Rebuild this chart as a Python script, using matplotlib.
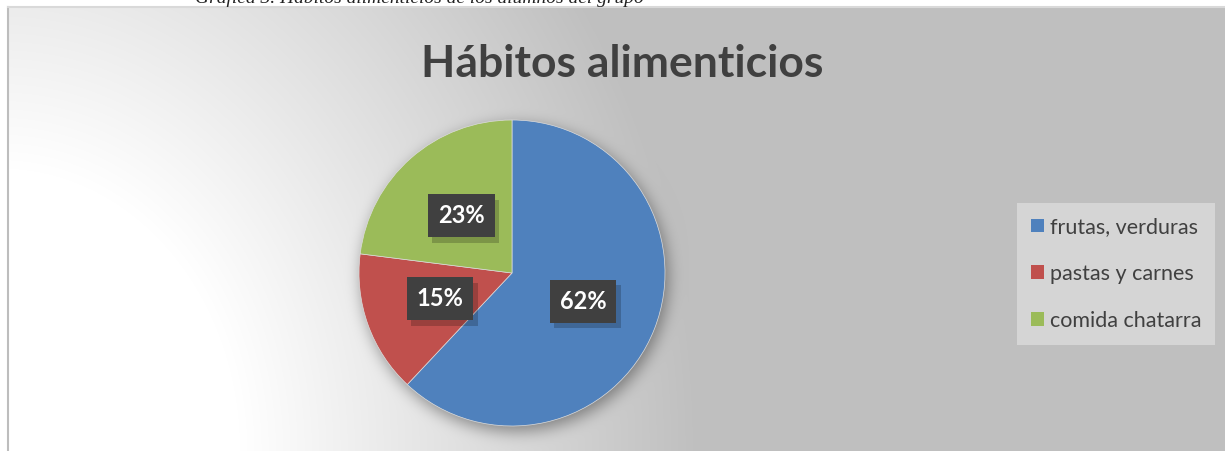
import numpy as np
import matplotlib
matplotlib.use("Agg")
import matplotlib.pyplot as plt
from matplotlib import patheffects as pe

# ---- data ----
categories = ["frutas, verduras", "pastas y carnes", "comida chatarra"]
values = [62, 15, 23]
colors = ["#4f81bd", "#c0504d", "#9bbb59"]
title = "Hábitos alimenticios"
caption = "Gráfica 3. Hábitos alimenticios de los alumnos del grupo"

W, H = 1225, 451
DPI = 100
fig = plt.figure(figsize=(W / DPI, H / DPI), dpi=DPI)
fig.patch.set_facecolor("white")

FONT = ["Lato", "DejaVu Sans"]

# ---- chart area background (radial gradient + pie shadow) ----
x0, y0 = 8, 7  # chart area top-left in pixels
bw, bh = W - x0, H - y0
cols = np.arange(bw) + x0 + 0.5
rows = np.arange(bh) + y0 + 0.5
X, Y = np.meshgrid(cols, rows)
d = np.sqrt(X ** 2 + ((H - Y) * 0.85) ** 2)
frac = np.clip((d - 240) / 460, 0, 1)
bg = 255 - 64 * frac

# pie geometry (layout)
pcx, pcy, pr = 512, 273, 153

# soft shadow around pie
mask = (((X - (pcx + 3)) ** 2 + (Y - (pcy + 5)) ** 2) <= pr ** 2).astype(float)

def box_blur(a, r, axis):
    k = 2 * r + 1
    pad = [(0, 0), (0, 0)]
    pad[axis] = (r + 1, r)
    ap = np.pad(a, pad, mode="edge")
    c = np.cumsum(ap, axis=axis)
    if axis == 0:
        return (c[k:, :] - c[:-k, :]) / k
    return (c[:, k:] - c[:, :-k]) / k

sh = mask
for _ in range(3):
    sh = box_blur(sh, 7, 0)
    sh = box_blur(sh, 7, 1)
bg = bg * (1 - 0.40 * sh)
img = np.dstack([bg, bg, bg]) / 255.0

axbg = fig.add_axes([x0 / W, 0, bw / W, bh / H])
axbg.imshow(img, aspect="auto", interpolation="bilinear", extent=[0, 1, 0, 1])
axbg.set_xlim(0, 1)
axbg.set_ylim(0, 1)
axbg.set_xticks([])
axbg.set_yticks([])
for s in ["right", "bottom"]:
    axbg.spines[s].set_visible(False)
axbg.spines["left"].set_color("#bdbdbd")
axbg.spines["left"].set_linewidth(1.5)
axbg.spines["top"].set_color("#d9d9d9")
axbg.spines["top"].set_linewidth(1.5)

# ---- caption (cut at top) ----
fig.text(195 / W, 1 - 3 / H, caption, family="Liberation Serif", style="italic",
         fontsize=14, color="#222222", ha="left", va="baseline")

# ---- title ----
fig.text(622 / W, 1 - 77 / H, title, family=FONT, fontweight="bold",
         fontsize=32, color="#404040", ha="center", va="baseline")

# ---- pie ----
ax = fig.add_axes([(pcx - pr) / W, (H - pcy - pr) / H, 2 * pr / W, 2 * pr / H])
wedges, texts, autotexts = ax.pie(
    values, colors=colors, startangle=90, counterclock=False, radius=1,
    autopct="%1.0f%%", pctdistance=0.5,
    wedgeprops=dict(edgecolor="#dddddd", linewidth=0.5),
    textprops=dict(family=FONT, fontweight="bold", fontsize=17, color="white"),
)
ax.set_xlim(-1, 1)
ax.set_ylim(-1, 1)
ax.set_aspect("auto")
ax.axis("off")

for t in autotexts:
    t.set_bbox(dict(boxstyle="square,pad=0.42", facecolor="#404040", edgecolor="none"))
    t.set_zorder(5)
    t.get_bbox_patch().set_path_effects(
        [pe.SimplePatchShadow(offset=(3, -4), shadow_rgbFace="black", alpha=0.2),
         pe.Normal()])

# ---- legend ----
leg = fig.legend(wedges, categories, loc="center",
                 bbox_to_anchor=(1116 / W, 1 - 274 / H),
                 prop=dict(family=FONT, size=15.5), labelcolor="#404040",
                 frameon=True, fancybox=False, facecolor="#d5d5d5", edgecolor="none",
                 framealpha=1, handlelength=0.62, handleheight=0.62,
                 handletextpad=0.28, labelspacing=1.25, borderpad=0.65)
for h in leg.legend_handles:
    h.set_edgecolor("none")
    h.set_linewidth(0)

fig.savefig("out.png", dpi=DPI)
